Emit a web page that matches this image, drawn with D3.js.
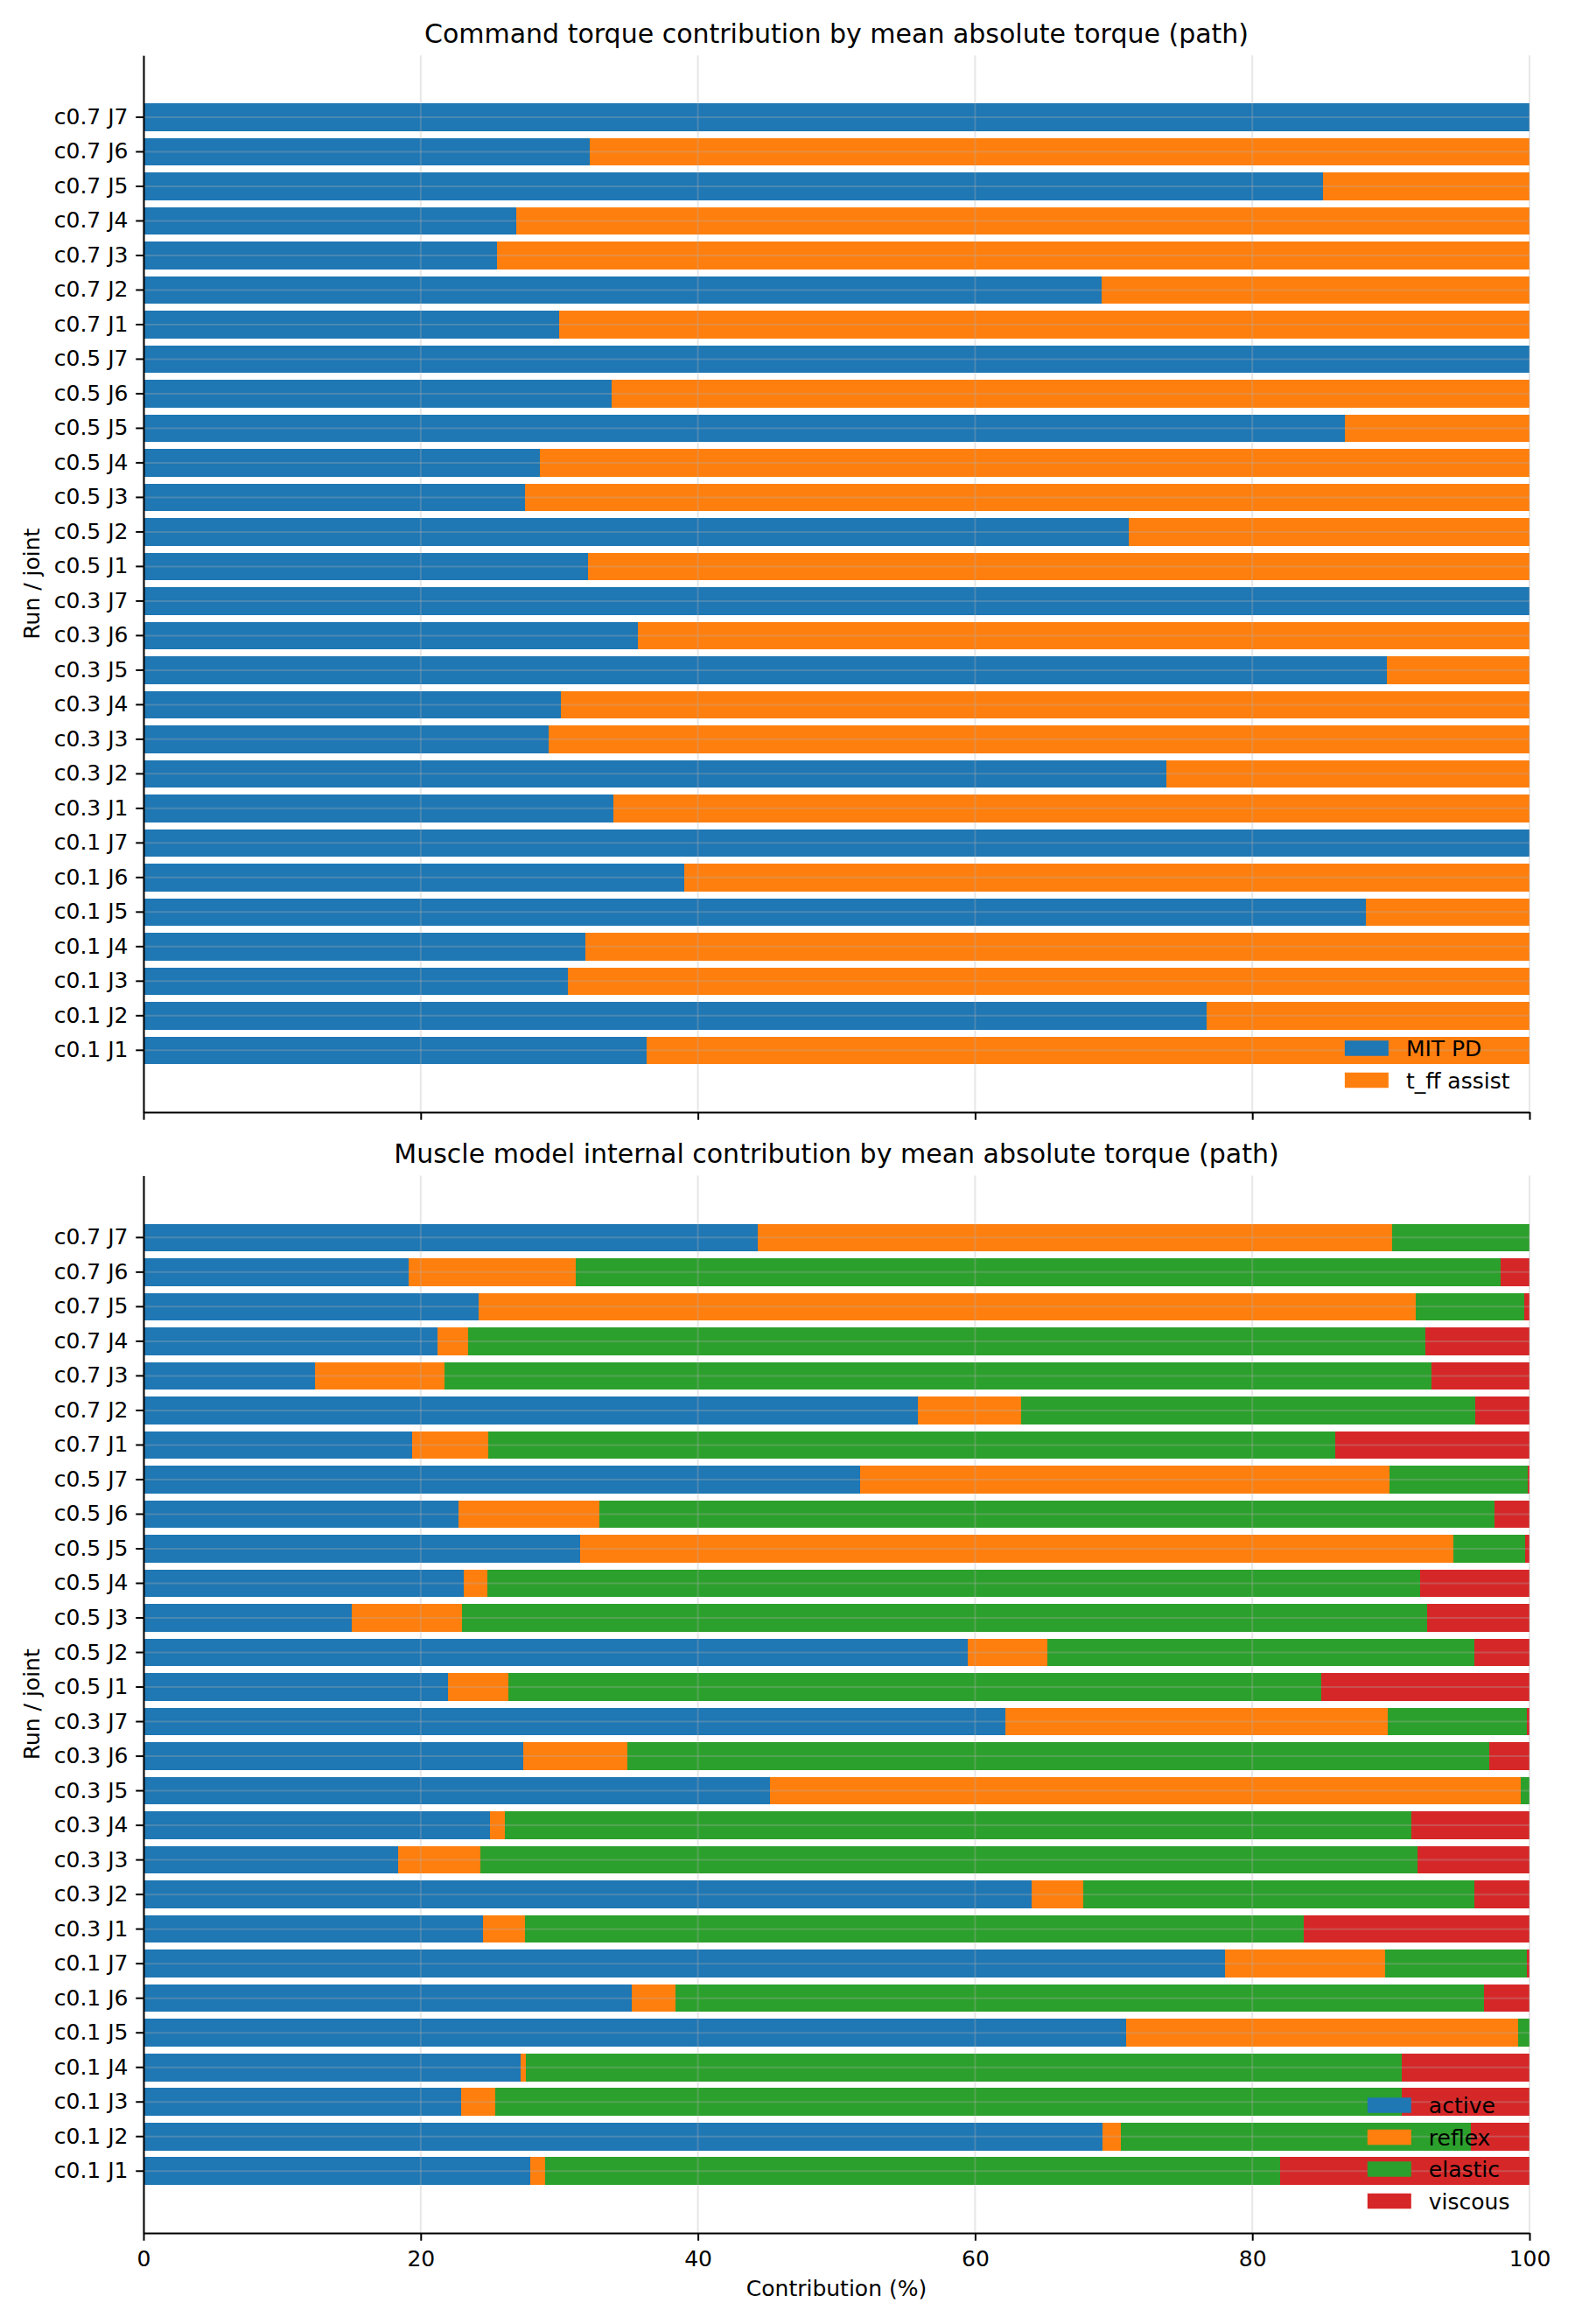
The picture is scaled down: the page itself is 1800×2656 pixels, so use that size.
<!DOCTYPE html>
<html>
<head>
<meta charset="utf-8">
<script src="https://cdn.jsdelivr.net/npm/d3@7"></script>
<style>
  body { margin: 0; background: #fff; }
  svg { display: block; font-family: 'DejaVu Sans', sans-serif; }
</style>
</head>
<body>
<script>
const runs = ['c0.1', 'c0.3', 'c0.5', 'c0.7'];
const joints = ['J1', 'J2', 'J3', 'J4', 'J5', 'J6', 'J7'];
// one row per run / joint, listed bottom to top
const rowLabels = runs.flatMap((r) => joints.map((j) => `${r} ${j}`));

// command torque split (%)
const mitPd = [36.3, 76.7, 30.6, 31.9, 88.2, 39.0, 100, 33.9, 73.8, 29.2, 30.1, 89.7, 35.7, 100,
  32.1, 71.1, 27.5, 28.6, 86.7, 33.8, 100, 30.0, 69.1, 25.5, 26.9, 85.1, 32.2, 100];
const tffAssist = [63.7, 23.3, 69.4, 68.1, 11.8, 61.0, 0, 66.1, 26.2, 70.8, 69.9, 10.3, 64.3, 0,
  67.9, 28.9, 72.5, 71.4, 13.3, 66.2, 0, 70.0, 30.9, 74.5, 73.1, 14.9, 67.8, 0];

// muscle model internal split (%)
const active = [27.9, 69.2, 22.9, 27.2, 70.9, 35.2, 78.0, 24.5, 64.1, 18.4, 25.0, 45.2, 27.4, 62.2,
  22.0, 59.5, 15.0, 23.1, 31.5, 22.7, 51.7, 19.4, 55.9, 12.4, 21.2, 24.2, 19.1, 44.3];
const reflex = [1.1, 1.3, 2.5, 0.4, 28.3, 3.2, 11.6, 3.0, 3.7, 5.9, 1.1, 54.2, 7.5, 27.6,
  4.3, 5.7, 8.0, 1.7, 63.0, 10.2, 38.2, 5.5, 7.4, 9.3, 2.2, 67.6, 12.1, 45.8];
const elastic = [53.0, 25.3, 65.4, 63.2, 0.8, 58.3, 10.2, 56.2, 28.2, 67.6, 65.4, 0.6, 62.2, 10.0,
  58.7, 30.8, 69.6, 67.3, 5.2, 64.6, 10.0, 61.1, 32.8, 71.2, 69.1, 7.8, 66.7, 9.9];
const viscous = [18.0, 4.2, 9.2, 9.2, 0.0, 3.3, 0.2, 16.3, 4.0, 8.1, 8.5, 0.0, 2.9, 0.2,
  15.0, 4.0, 7.4, 7.9, 0.3, 2.5, 0.1, 14.0, 3.9, 7.1, 7.5, 0.4, 2.1, 0.0];

const xTicks = [0, 20, 40, 60, 80, 100];

const w = 1800;
const h = 2656;
const left = 164;
const right = 1748;
const lw = 2;

const svg = d3.select('body').append('svg').attr('width', w).attr('height', h);
svg.append('rect').attr('width', w).attr('height', h).attr('fill', '#fff');

const x = d3.scaleLinear().domain([0, 100]).range([left, right]);

const panels = [
  {
    title: 'Command torque contribution by mean absolute torque (path)',
    top: 63.3,
    bottom: 1271,
    keys: ['MIT PD', 't_ff assist'],
    series: [mitPd, tffAssist],
    colors: ['#1f77b4', '#ff7f0e'],
    showTickLabels: false,
  },
  {
    title: 'Muscle model internal contribution by mean absolute torque (path)',
    top: 1343.6,
    bottom: 2552,
    keys: ['active', 'reflex', 'elastic', 'viscous'],
    series: [active, reflex, elastic, viscous],
    colors: ['#1f77b4', '#ff7f0e', '#2ca02c', '#d62728'],
    showTickLabels: true,
  },
];

panels.forEach((p) => {
  const g = svg.append('g');

  const y = d3
    .scaleBand()
    .domain(rowLabels.slice().reverse())
    .range([p.top, p.bottom])
    .paddingInner(0.2)
    .paddingOuter(1.39);

  // build the table for the stack
  const table = rowLabels.map((label, i) => {
    const row = { label };
    p.keys.forEach((k, j) => (row[k] = p.series[j][i]));
    return row;
  });
  const stacked = d3.stack().keys(p.keys)(table);
  const color = d3.scaleOrdinal().domain(p.keys).range(p.colors);

  g.selectAll('.layer')
    .data(stacked)
    .enter()
    .append('g')
    .attr('fill', (d) => color(d.key))
    .selectAll('rect')
    .data((d) => d)
    .enter()
    .append('rect')
    .attr('x', (d) => x(d[0]))
    .attr('y', (d) => y(d.data.label))
    .attr('width', (d) => Math.max(0, x(d[1]) - x(d[0])))
    .attr('height', y.bandwidth())
    .attr('shape-rendering', 'crispEdges');

  // grid drawn over the bars, like the matplotlib default
  const grid = g.append('g').attr('stroke', '#b0b0b0').attr('stroke-opacity', 0.3).attr('stroke-width', lw);
  grid.selectAll('.vg')
    .data(xTicks)
    .enter()
    .append('line')
    .attr('x1', (d) => x(d))
    .attr('x2', (d) => x(d))
    .attr('y1', p.top)
    .attr('y2', p.bottom);
  grid.selectAll('.hg')
    .data(rowLabels)
    .enter()
    .append('line')
    .attr('x1', left)
    .attr('x2', right)
    .attr('y1', (d) => y(d) + y.bandwidth() / 2)
    .attr('y2', (d) => y(d) + y.bandwidth() / 2);

  // axes
  const yAxis = d3.axisLeft(y).tickSize(8.75).tickSizeOuter(0).tickPadding(8.75);
  const ya = g.append('g').attr('transform', `translate(${left},0)`).call(yAxis);
  const xAxis = d3
    .axisBottom(x)
    .tickValues(xTicks)
    .tickSize(8.75)
    .tickSizeOuter(0)
    .tickPadding(11.5)
    .tickFormat(p.showTickLabels ? d3.format('d') : () => '');
  const xa = g.append('g').attr('transform', `translate(0,${p.bottom})`).call(xAxis);

  [ya, xa].forEach((a) => {
    a.selectAll('path, line').attr('stroke', '#000').attr('stroke-width', lw);
    a.selectAll('text')
      .attr('fill', '#000')
      .style('font-family', "'DejaVu Sans', sans-serif")
      .style('font-size', '25px');
  });

  g.append('text')
    .attr('x', (left + right) / 2)
    .attr('y', p.top - 14.5)
    .attr('text-anchor', 'middle')
    .style('font-size', '30px')
    .text(p.title);

  g.append('text')
    .attr('transform', `translate(45,${(p.top + p.bottom) / 2}) rotate(-90)`)
    .attr('text-anchor', 'middle')
    .style('font-size', '25px')
    .text('Run / joint');

  // legend, lower right, no frame
  const legend = g.append('g');
  const step = 36.5;
  const n = p.keys.length;
  const items = legend
    .selectAll('g')
    .data(p.keys)
    .enter()
    .append('g')
    .attr('transform', (d, i) => `translate(0,${p.bottom - 36.5 - (n - 1 - i) * step})`);
  items.append('rect')
    .attr('x', 0)
    .attr('y', -8.75)
    .attr('width', 50)
    .attr('height', 17.5)
    .attr('fill', (d) => color(d));
  const labels = items.append('text')
    .attr('x', 70)
    .attr('y', 9)
    .style('font-size', '25px')
    .text((d) => d);
  let maxW = 0;
  labels.each(function () {
    maxW = Math.max(maxW, this.getComputedTextLength());
  });
  legend.attr('transform', `translate(${right - 22.5 - maxW - 70},0)`);
});

svg.append('text')
  .attr('x', (left + right) / 2)
  .attr('y', 2624)
  .attr('text-anchor', 'middle')
  .style('font-size', '25px')
  .text('Contribution (%)');
</script>
</body>
</html>
